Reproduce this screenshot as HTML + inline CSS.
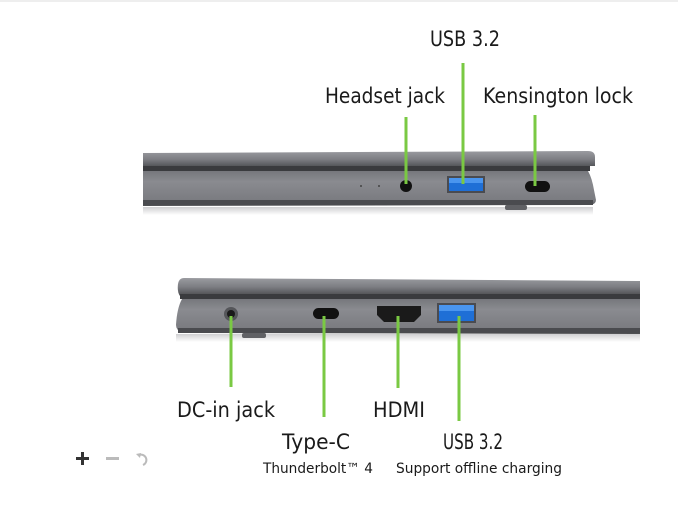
<!DOCTYPE html>
<html><head><meta charset="utf-8"><style>
html,body{margin:0;padding:0;background:#fff;width:678px;height:511px;overflow:hidden}
svg{display:block}
text{font-family:"DejaVu Sans","Liberation Sans",sans-serif;fill:#1a1a1a}
</style></head><body>
<svg width="678" height="511" viewBox="0 0 678 511" xmlns="http://www.w3.org/2000/svg">
<defs>
<linearGradient id="lid" x1="0" y1="0" x2="0" y2="1"><stop offset="0" stop-color="#9a9ba0"/><stop offset="0.5" stop-color="#7c7d82"/><stop offset="1" stop-color="#4a4b4e"/></linearGradient>
<linearGradient id="base" x1="0" y1="0" x2="0" y2="1"><stop offset="0" stop-color="#76777c"/><stop offset="0.3" stop-color="#8a8b90"/><stop offset="0.85" stop-color="#7a7b80"/><stop offset="1" stop-color="#4a4b4e"/></linearGradient>
<linearGradient id="sh" x1="0" y1="0" x2="0" y2="1"><stop offset="0" stop-color="#cfcfd1"/><stop offset="1" stop-color="#fff"/></linearGradient>
</defs>
<rect x="0" y="0" width="678" height="2" fill="#eee"/>
<!-- top laptop -->
<rect x="143" y="207" width="450" height="8" fill="url(#sh)"/>
<path d="M143 153 L588 151 Q595 151 595 157 L595 166 L143 168 Z" fill="url(#lid)"/>
<rect x="143" y="166" width="447" height="5" fill="#3a3b3e"/>
<path d="M143 171 L588 171 Q592 178 594 190 L596 200 Q596 204 590 205 L143 206 Z" fill="url(#base)"/>
<rect x="143" y="200" width="450" height="5" fill="#4a4b4f"/>
<rect x="505" y="205" width="22" height="5" rx="2" fill="#606165"/>
<circle cx="406" cy="186" r="6" fill="#111"/>
<rect x="447" y="176" width="38" height="17" fill="#4a4b50"/>
<rect x="449" y="178" width="34" height="13" fill="#1f6fd6"/>
<rect x="449" y="178" width="34" height="5" fill="#4a95ee"/>
<rect x="525" y="181" width="25" height="11" rx="5.5" fill="#111"/>
<g fill="#444"><circle cx="361" cy="186" r="1"/><circle cx="379" cy="186" r="1"/></g>
<!-- bottom laptop -->
<rect x="176" y="334" width="464" height="8" fill="url(#sh)"/>
<path d="M184 278 L640 281 L640 295 L180 296 Q177 292 178 284 Q179 278 184 278 Z" fill="url(#lid)"/>
<rect x="180" y="294" width="460" height="5" fill="#3a3b3e"/>
<path d="M182 299 L640 299 L640 334 L182 333 Q176 330 176 325 Q177 308 182 299 Z" fill="url(#base)"/>
<rect x="178" y="328" width="462" height="5" fill="#4a4b4f"/>
<rect x="242" y="333" width="24" height="5" rx="2" fill="#606165"/>
<circle cx="231" cy="314" r="7" fill="#55565a"/><circle cx="231" cy="314" r="4" fill="#1a1a1a"/>
<rect x="313" y="308" width="26" height="11" rx="5.5" fill="#111"/>
<path d="M377 306 L421 306 L421 315 L414 322 L384 322 L377 315 Z" fill="#1a1a1a"/>
<rect x="437" y="303" width="39" height="20" fill="#4a4b50"/>
<rect x="439" y="305" width="35" height="16" fill="#1f6fd6"/>
<rect x="439" y="305" width="35" height="6" fill="#4a95ee"/>
<!-- leader lines -->
<g stroke="#7ac943" stroke-width="3">
<line x1="406" y1="117" x2="406" y2="184"/>
<line x1="463" y1="63" x2="463" y2="184"/>
<line x1="535" y1="115" x2="535" y2="186"/>
<line x1="231" y1="316" x2="231" y2="387"/>
<line x1="324" y1="316" x2="324" y2="417"/>
<line x1="398" y1="316" x2="398" y2="388"/>
<line x1="459" y1="316" x2="459" y2="421"/>
</g>
<!-- labels -->
<g font-size="21">
<text x="430" y="46" textLength="70" lengthAdjust="spacingAndGlyphs">USB 3.2</text>
<text x="325" y="103" textLength="120" lengthAdjust="spacingAndGlyphs">Headset jack</text>
<text x="483" y="103" textLength="150" lengthAdjust="spacingAndGlyphs">Kensington lock</text>
<text x="177" y="417" textLength="98" lengthAdjust="spacingAndGlyphs">DC-in jack</text>
<text x="373" y="417" textLength="52" lengthAdjust="spacingAndGlyphs">HDMI</text>
<text x="282" y="449" textLength="68" lengthAdjust="spacingAndGlyphs">Type-C</text>
<text x="443" y="449" textLength="60" lengthAdjust="spacingAndGlyphs">USB 3.2</text>
</g>
<g font-size="14">
<text x="263" y="473" textLength="110" lengthAdjust="spacingAndGlyphs">Thunderbolt™ 4</text>
<text x="396" y="473" textLength="166" lengthAdjust="spacingAndGlyphs">Support offline charging</text>
</g>
<!-- controls -->
<g fill="#333"><rect x="76" y="457" width="13" height="3"/><rect x="81" y="452" width="3" height="13"/></g>
<rect x="106" y="457" width="13" height="3" fill="#bbb"/>
<path d="M139 455 A5 5 0 1 1 143 465" fill="none" stroke="#bbb" stroke-width="2"/>
<path d="M136 454 L141 453 L140 458 Z" fill="#bbb"/>
</svg>
</body></html>
